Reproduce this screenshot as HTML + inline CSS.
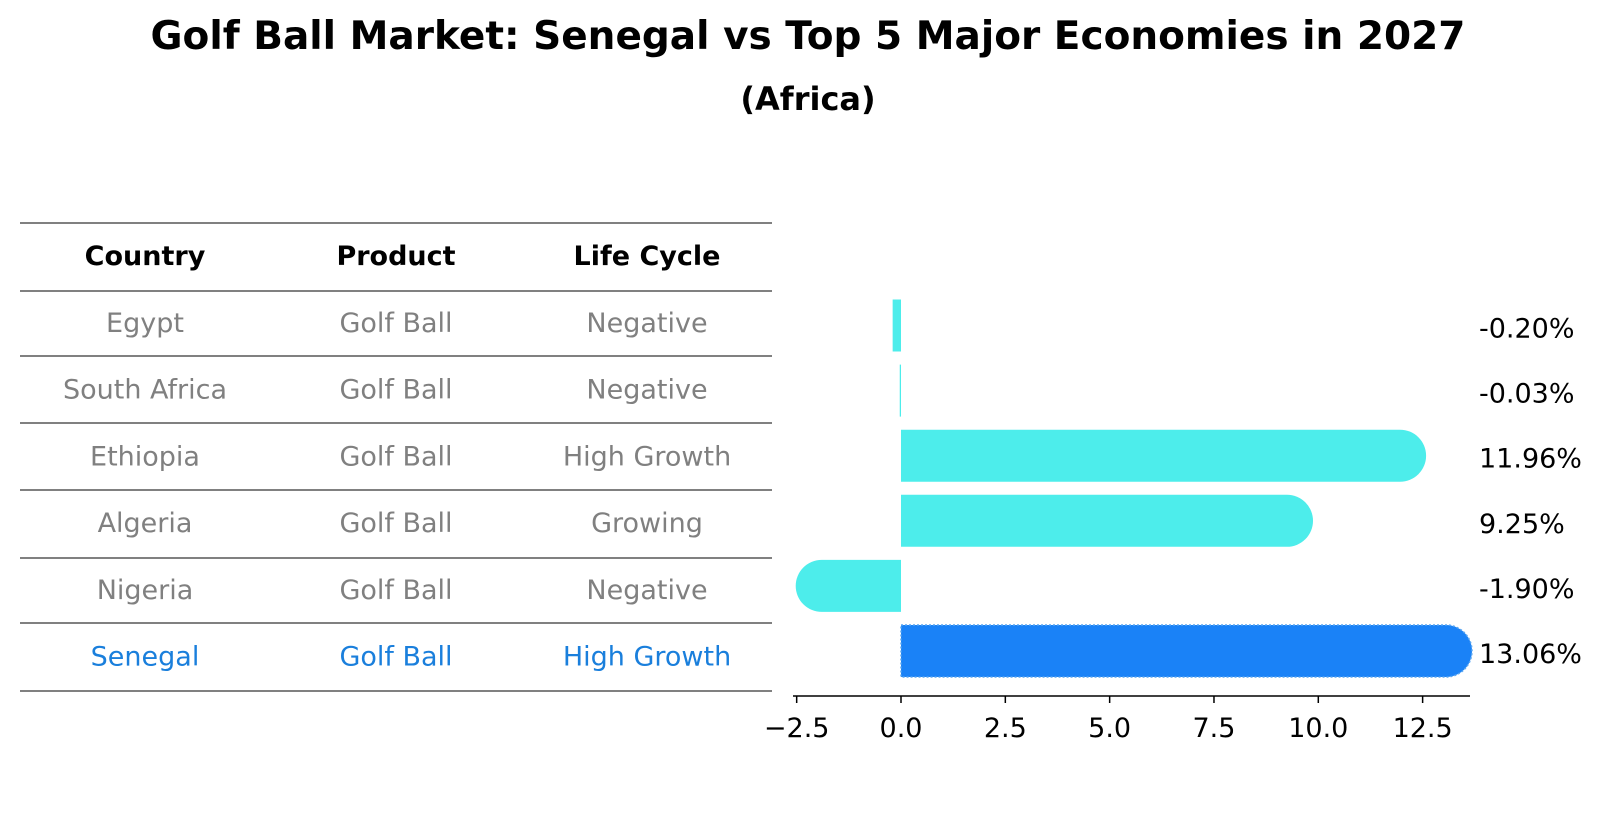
<!DOCTYPE html>
<html><head><meta charset="utf-8"><style>
html,body{margin:0;padding:0;background:#fff;}
body{width:1604px;height:823px;position:relative;overflow:hidden;font-family:"Liberation Sans","DejaVu Sans",sans-serif;}
.t{position:absolute;white-space:nowrap;}
</style></head><body>
<div class="t" style="left:0;width:1616px;text-align:center;top:14px;font-size:39px;font-weight:bold;font-family:'DejaVu Sans',sans-serif;">Golf Ball Market: Senegal vs Top 5 Major Economies in 2027</div>
<div class="t" style="left:0;width:1616px;text-align:center;top:80px;font-size:32px;font-weight:bold;font-family:'DejaVu Sans',sans-serif;">(Africa)</div>
<svg id="svg" width="1604" height="823" style="position:absolute;left:0;top:0"></svg>
<script>
const countries=["Egypt","South Africa","Ethiopia","Algeria","Nigeria","Senegal"];
const products=["Golf Ball","Golf Ball","Golf Ball","Golf Ball","Golf Ball","Golf Ball"];
const lifecycles=["Negative","Negative","High Growth","Growing","Negative","High Growth"];
const values=[-0.20,-0.03,11.96,9.25,-1.90,13.06];
const ticks=[-2.5,0,2.5,5,7.5,10,12.5];
const tickLabels=["\u22122.5","0.0","2.5","5.0","7.5","10.0","12.5"];

const NS="http://www.w3.org/2000/svg";
const svg=document.getElementById('svg');
function mk(tag,attrs,parent){const e=document.createElementNS(NS,tag);for(const k in attrs)e.setAttribute(k,attrs[k]);(parent||svg).appendChild(e);return e;}
const x=v=>901+v*41.73;
const yc=i=>325.5+i*65.1;
const H=52, F="'DejaVu Sans',sans-serif";

// table
const lineYs=[223,291,356,423,490,558,623,691];
lineYs.forEach(ly=>{
 const l=mk('line',{x1:20,x2:772,y1:ly,y2:ly,stroke:'#000','stroke-width':1});
 
 
});
const colX=[145,396,647];
["Country","Product","Life Cycle"].forEach((h,j)=>{
 const t=mk('text',{x:colX[j],y:265,'text-anchor':'middle','font-size':27,'font-weight':'bold','font-family':F});
 t.textContent=h;
 
 
});
countries.forEach((c,i)=>{
 const col=i===5?'#1a7fdc':'#808080';
 [c,products[i],lifecycles[i]].forEach((s,j)=>{
  const t=mk('text',{x:colX[j],y:332+i*66.7,'text-anchor':'middle','font-size':27,fill:col,'font-family':F});
  t.textContent=s;
  
  
 });
});

// bars
values.forEach((v,i)=>{
 const x0=x(0),xv=x(v),top=yc(i)-H/2,bot=yc(i)+H/2,r=H/2;
 const col=i===5?'#1a82f7':'#4dedeb';
 let d;
 if(Math.abs(v)<1){const a=Math.min(x0,xv),b=Math.max(x0,xv,a+1);d=`M${a},${top}H${b}V${bot}H${a}Z`;}
 else if(v>0){d=`M${x0},${top}H${xv}A${r},${r} 0 0 1 ${xv},${bot}H${x0}Z`;}
 else{d=`M${x0},${top}H${xv}A${r},${r} 0 0 0 ${xv},${bot}H${x0}Z`;}
 const p=mk('path',{d:d,fill:col});
 if(i===5){p.setAttribute('stroke','#5aa6f0');p.setAttribute('stroke-width',1.5);p.setAttribute('stroke-dasharray','2,2');}
 
 
 const t=mk('text',{x:1479,y:yc(i)+12,'font-size':27,'font-family':F});
 t.textContent=v.toFixed(2)+'%';
 
 
});

// axis
const ax=mk('line',{x1:793,x2:1470,y1:696,y2:696,stroke:'#000','stroke-width':1.5});


ticks.forEach((tv,k)=>{
 const tl=mk('line',{x1:x(tv),x2:x(tv),y1:696,y2:703,stroke:'#000','stroke-width':1.5});
 
 
 const t=mk('text',{x:x(tv),y:737,'text-anchor':'middle','font-size':27,'font-family':F});
 t.textContent=tickLabels[k];
 
 
});
</script>
</body></html>
